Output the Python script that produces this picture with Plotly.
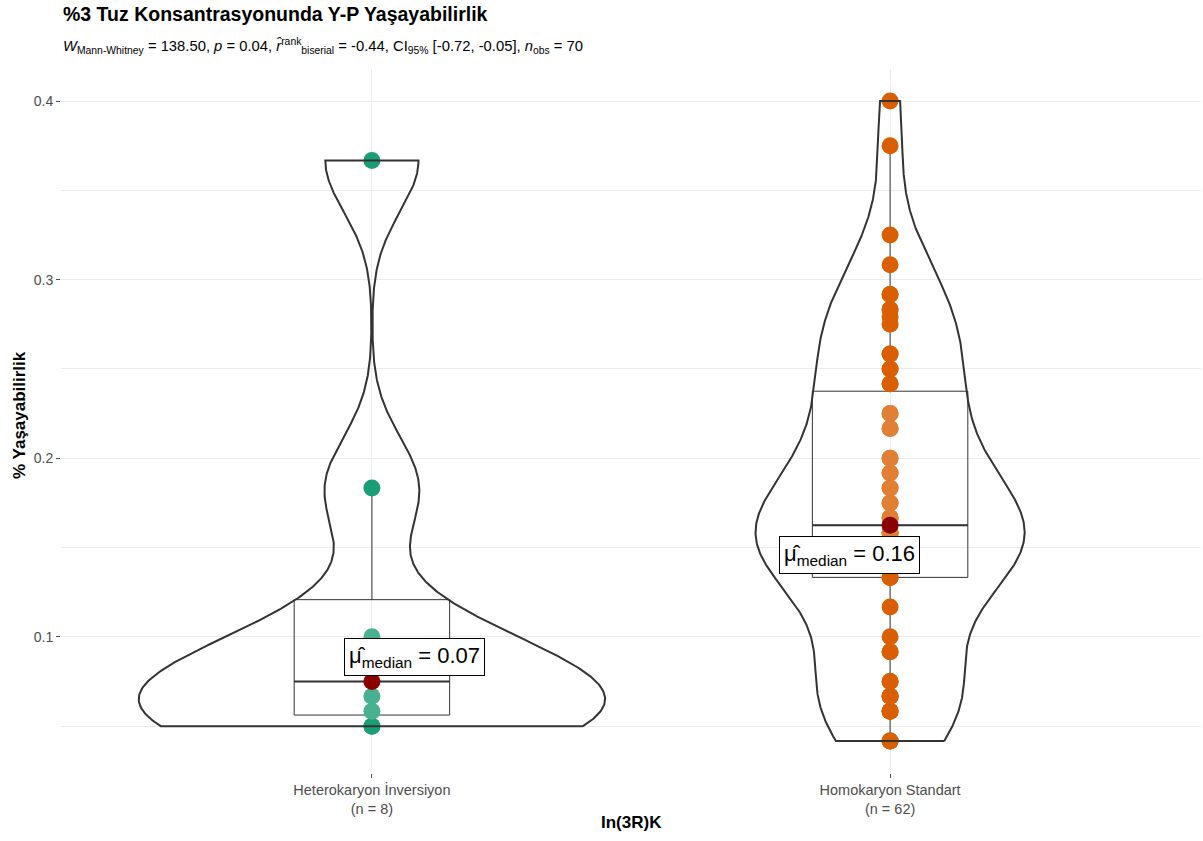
import numpy as np
import plotly.graph_objects as go

# ---------------- data ----------------
categories = ["Heterokaryon İnversiyon", "Homokaryon Standart"]
hetero_values = [0.05, 0.05, 0.0583, 0.0667, 0.0833, 0.1, 0.1833, 0.3667]
homo_values = [0.0417, 0.0417, 0.0417, 0.0583, 0.0583, 0.0583,
               0.0667, 0.0667, 0.0667, 0.075, 0.075, 0.0917, 0.0917,
               0.1, 0.1167, 0.1333, 0.1333,
               0.1417, 0.1417, 0.1417, 0.1417, 0.1417,
               0.15, 0.15, 0.15, 0.15, 0.15,
               0.1583, 0.1583, 0.1583, 0.1583,
               0.1667, 0.1667, 0.1667, 0.175, 0.175, 0.1833, 0.1833,
               0.1917, 0.1917, 0.2, 0.2, 0.2167, 0.2167, 0.225, 0.225,
               0.2417, 0.2417, 0.25, 0.25, 0.2583, 0.2583,
               0.275, 0.2792, 0.2833, 0.2833, 0.2917, 0.2917,
               0.3083, 0.325, 0.375, 0.4]
group_colors = ["#1B9E77", "#D95F02"]
y_tick_vals = [0.1, 0.2, 0.3, 0.4]
y_tick_text = ["0.1", "0.2", "0.3", "0.4"]
title_text = "%3 Tuz Konsantrasyonunda Y-P Yaşayabilirlik"
subtitle_text = ("<i>W</i><sub>Mann-Whitney</sub> = 138.50, <i>p</i> = 0.04, "
                 "<i>r\u0302</i><sup>rank</sup><sub>biserial</sub> = -0.44, "
                 "CI<sub>95%</sub> [-0.72, -0.05], <i>n</i><sub>obs</sub> = 70")
x_title = "In(3R)K"
y_title = "% Yaşayabilirlik"

groups = [np.array(hetero_values), np.array(homo_values)]
positions = [1, 2]

FONT = "Liberation Sans, Arial, sans-serif"


def nrd0(v):
    n = len(v)
    sd = np.std(v, ddof=1)
    iqr = np.percentile(v, 75) - np.percentile(v, 25)
    return 0.9 * min(sd, iqr / 1.34) * n ** (-0.2)


def kde(v, grid):
    bw = nrd0(v)
    z = (grid[:, None] - v[None, :]) / bw
    return np.exp(-0.5 * z ** 2).sum(axis=1) / (len(v) * bw * np.sqrt(2 * np.pi))


def blend(hex_col, a):
    r, g, b = (int(hex_col[i:i + 2], 16) for i in (1, 3, 5))
    return "rgb(%d,%d,%d)" % tuple(round(c * (1 - a) + 255 * a) for c in (r, g, b))


grids, dens = [], []
for v in groups:
    g = np.linspace(v.min(), v.max(), 512)
    grids.append(g)
    dens.append(kde(v, g))
dmax = max(d.max() for d in dens)

fig = go.Figure()

# points (points inside the box are seen through its translucent white fill)
for v, pos, col in zip(groups, positions, group_colors):
    q1, q3 = np.percentile(v, [25, 75])
    cols = [blend(col, 0.2) if q1 < y < q3 else col for y in v]
    fig.add_trace(go.Scatter(x=[pos] * len(v), y=v, mode="markers",
                             marker=dict(size=17, color=cols, line=dict(width=0)),
                             hoverinfo="skip", showlegend=False))

# boxes
for v, pos in zip(groups, positions):
    q1, med, q3 = np.percentile(v, [25, 50, 75])
    iqr = q3 - q1
    lf = v[v >= q1 - 1.5 * iqr].min()
    uf = v[v <= q3 + 1.5 * iqr].max()
    fig.add_trace(go.Box(x=[pos], q1=[q1], median=[med], q3=[q3],
                         lowerfence=[lf], upperfence=[uf], width=0.3,
                         whiskerwidth=0, boxpoints=False,
                         fillcolor="rgba(255,255,255,0)",
                         line=dict(color="#333333", width=1),
                         hoverinfo="skip", showlegend=False))
    fig.add_trace(go.Scatter(x=[pos - 0.15, pos + 0.15], y=[med, med], mode="lines",
                             line=dict(color="#333333", width=2),
                             hoverinfo="skip", showlegend=False))

# violins (trimmed, area-scaled, max width 0.9)
for g, d, pos in zip(grids, dens, positions):
    w = d / dmax * 0.45
    xs = np.concatenate([pos + w, (pos - w)[::-1], [pos + w[0]]])
    ys = np.concatenate([g, g[::-1], [g[0]]])
    fig.add_trace(go.Scatter(x=xs, y=ys, mode="lines",
                             line=dict(color="#333333", width=2),
                             hoverinfo="skip", showlegend=False))

# median points + labels
label_offsets = [(0.083, 0.014), (-0.079, -0.0165)]
for v, pos, off in zip(groups, positions, label_offsets):
    med = np.median(v)
    fig.add_trace(go.Scatter(x=[pos], y=[med], mode="markers",
                             marker=dict(size=17, color="#8B0000"),
                             hoverinfo="skip", showlegend=False))
    fig.add_annotation(x=pos + off[0], y=med + off[1], xref="x", yref="y",
                       text="\u03bc\u0302<sub>median</sub> = %.2f" % med,
                       showarrow=False, font=dict(family=FONT, size=22, color="black"),
                       bgcolor="white", bordercolor="black", borderwidth=1, borderpad=4,
                       xanchor="center", yanchor="middle")

allv = np.concatenate(groups)
lo, hi = allv.min(), allv.max()
pad = (hi - lo) * 0.05

fig.update_layout(
    width=1203, height=841,
    margin=dict(l=61, r=2, t=69, b=68),
    paper_bgcolor="white", plot_bgcolor="white",
    font=dict(family=FONT, color="#4D4D4D"),
    showlegend=False,
    xaxis=dict(range=[0.4, 2.6], tickvals=positions,
               ticktext=["%s<br>(n = %d)" % (c, len(v)) for c, v in zip(categories, groups)],
               showgrid=True, gridcolor="#EBEBEB", gridwidth=1, zeroline=False,
               ticks="outside", ticklen=4, tickcolor="#4D4D4D",
               tickfont=dict(family=FONT, size=14.5, color="#4D4D4D"), showline=False),
    yaxis=dict(range=[lo - pad, hi + pad], tickvals=y_tick_vals, ticktext=y_tick_text,
               showgrid=True, gridcolor="#EBEBEB", gridwidth=1, zeroline=False,
               ticks="outside", ticklen=4, tickcolor="#4D4D4D",
               tickfont=dict(family=FONT, size=14, color="#4D4D4D"), showline=False,
               minor=dict(dtick=0.05, tick0=0, showgrid=True, gridcolor="#EBEBEB", ticklen=0)),
)

fig.add_annotation(xref="paper", yref="paper", x=0, y=(773 - 14) / 704,
                   text="<b>%s</b>" % title_text, showarrow=False,
                   xanchor="left", yanchor="middle",
                   font=dict(family=FONT, size=19.5, color="black"))
fig.add_annotation(xref="paper", yref="paper", x=0, y=(773 - 46) / 704,
                   text=subtitle_text, showarrow=False,
                   xanchor="left", yanchor="middle",
                   font=dict(family=FONT, size=14.8, color="black"))
fig.add_annotation(xref="paper", yref="paper", x=0.5, y=(773 - 822) / 704,
                   text="<b>%s</b>" % x_title, showarrow=False,
                   xanchor="center", yanchor="middle",
                   font=dict(family=FONT, size=17, color="black"))
fig.add_annotation(xref="paper", yref="paper", x=(19 - 61) / 1140, y=(773 - 415) / 704,
                   text="<b>%s</b>" % y_title, showarrow=False, textangle=-90,
                   xanchor="center", yanchor="middle",
                   font=dict(family=FONT, size=17, color="black"))

fig.write_html("out.html")
